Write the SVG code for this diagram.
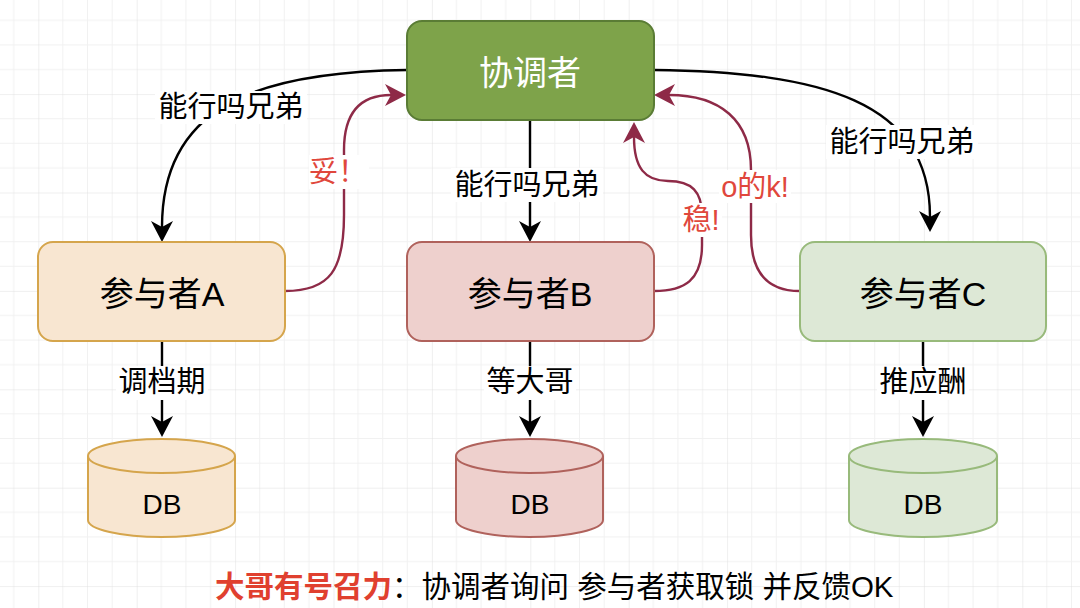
<svg xmlns="http://www.w3.org/2000/svg" width="1080" height="608" viewBox="0 0 1080 608">
<style>
text{font-family:"Liberation Sans","Noto Sans CJK SC",sans-serif;dominant-baseline:central;text-anchor:middle}
.node{stroke-width:2}
.big{font-size:34px;fill:#000}
.lbl{font-size:29px;fill:#000}
.red{font-size:29px;fill:#e0473c}
.db{font-size:28px;fill:#000}
.blk{fill:none;stroke:#000;stroke-width:2.4}
.crim{fill:none;stroke:#8e2a47;stroke-width:2.4}
.bg{fill:#fff}
</style>
<defs>
<pattern id="grid" patternUnits="userSpaceOnUse" x="38.3" y="94.1" width="98.4" height="98.4">
<path d="M24.6,0V98.4M49.2,0V98.4M73.8,0V98.4M0,24.6H98.4M0,49.2H98.4M0,73.8H98.4" stroke="#f1f1f1" stroke-width="1" fill="none"/>
<path d="M0,0V98.4M0,0H98.4" stroke="#e0e0e0" stroke-width="1" fill="none"/>
</pattern>
<marker id="ab" viewBox="-7 -12 23 24" refX="0" refY="0" markerWidth="23" markerHeight="24" markerUnits="userSpaceOnUse" orient="auto">
<path d="M15,0L-6,-11L0,0L-6,11Z" fill="#000"/>
</marker>
<marker id="ac" viewBox="-7 -12 23 24" refX="0" refY="0" markerWidth="23" markerHeight="24" markerUnits="userSpaceOnUse" orient="auto">
<path d="M15,0L-6,-11L0,0L-6,11Z" fill="#8e2a47"/>
</marker>
</defs>
<rect width="1080" height="608" fill="#fff"/>
<rect width="1080" height="608" fill="url(#grid)"/>

<g id="connectors">
<path class="blk" d="M407,70 C250,72 162,110 162,227" marker-end="url(#ab)"/>
<path class="blk" d="M530,120 L530,227" marker-end="url(#ab)"/>
<path class="blk" d="M654,70 C820,72 930,100 930,217" marker-end="url(#ab)"/>
<path class="crim" d="M285,291 C330,291 344,270 344,215 L344,150 C344,115 358,95 391,95" marker-end="url(#ac)"/>
<path class="crim" d="M654,291 C685,291 702,280 702,245 L702,215 C702,192 692,181 668,181 C645,181 634,168 634,137" marker-end="url(#ac)"/>
<path class="crim" d="M800,291 C765,291 751,270 751,235 L751,170 C751,120 720,95 669,95" marker-end="url(#ac)"/>
<path class="blk" d="M162,341 L162,422" marker-end="url(#ab)"/>
<path class="blk" d="M530,341 L530,422" marker-end="url(#ab)"/>
<path class="blk" d="M923,341 L923,422" marker-end="url(#ab)"/>
<rect class="bg" x="155" y="91" width="152" height="33"/>
<text class="lbl" x="231" y="107">能行吗兄弟</text>
<rect class="bg" x="451" y="168" width="152" height="34"/>
<text class="lbl" x="527" y="185">能行吗兄弟</text>
<rect class="bg" x="826" y="125" width="152" height="34"/>
<text class="lbl" x="902" y="142">能行吗兄弟</text>
<rect class="bg" x="309" y="155" width="60" height="34"/>
<text class="red" x="338" y="172">妥！</text>
<rect class="bg" x="680" y="203" width="42" height="34"/>
<text class="red" x="701" y="220">稳!</text>
<rect class="bg" x="719" y="170" width="72" height="33"/>
<text class="red" x="755" y="187">o的k!</text>
<rect class="bg" x="116" y="366" width="92" height="34"/>
<text class="lbl" x="162" y="382">调档期</text>
<rect class="bg" x="484" y="366" width="92" height="34"/>
<text class="lbl" x="530" y="382">等大哥</text>
<rect class="bg" x="877" y="366" width="92" height="34"/>
<text class="lbl" x="923" y="382">推应酬</text>
</g>

<g id="coordinator">
<rect class="node" x="407" y="21" width="247" height="99" rx="15" fill="#7ea34a" stroke="#5a7c35"/>
<text class="big" x="530" y="73" style="fill:#fff">协调者</text>
</g>
<g id="participantA">
<rect class="node" x="38" y="242" width="247" height="99" rx="15" fill="#f8e6d1" stroke="#d5a54c"/>
<text class="big" x="162" y="294">参与者A</text>
</g>
<g id="participantB">
<rect class="node" x="407" y="242" width="247" height="99" rx="15" fill="#eed0cd" stroke="#b0625c"/>
<text class="big" x="530" y="294">参与者B</text>
</g>
<g id="participantC">
<rect class="node" x="800" y="242" width="246" height="99" rx="15" fill="#dde8d6" stroke="#98ba7b"/>
<text class="big" x="923" y="294">参与者C</text>
</g>

<g id="dbA">
<path class="node" d="M88,456 A73.5,17 0 0 1 235,456 L235,520 A73.5,17 0 0 1 88,520 Z" fill="#f8e6d1" stroke="#d5a54c"/>
<path class="node" d="M88,456 A73.5,17 0 0 0 235,456" fill="none" stroke="#d5a54c"/>
<text class="db" x="162" y="504">DB</text>
</g>
<g id="dbB">
<path class="node" d="M456,456 A73.5,17 0 0 1 603,456 L603,520 A73.5,17 0 0 1 456,520 Z" fill="#eed0cd" stroke="#b0625c"/>
<path class="node" d="M456,456 A73.5,17 0 0 0 603,456" fill="none" stroke="#b0625c"/>
<text class="db" x="530" y="504">DB</text>
</g>
<g id="dbC">
<path class="node" d="M849,456 A74,17 0 0 1 997,456 L997,520 A74,17 0 0 1 849,520 Z" fill="#dde8d6" stroke="#98ba7b"/>
<path class="node" d="M849,456 A74,17 0 0 0 997,456" fill="none" stroke="#98ba7b"/>
<text class="db" x="923" y="504">DB</text>
</g>

<g id="caption">
<text x="215" y="586" style="text-anchor:start;font-size:29.5px"><tspan fill="#e0402f" font-weight="bold">大哥有号召力</tspan><tspan fill="#000">：协调者询问 参与者获取锁 并反馈OK</tspan></text>
</g>
</svg>
